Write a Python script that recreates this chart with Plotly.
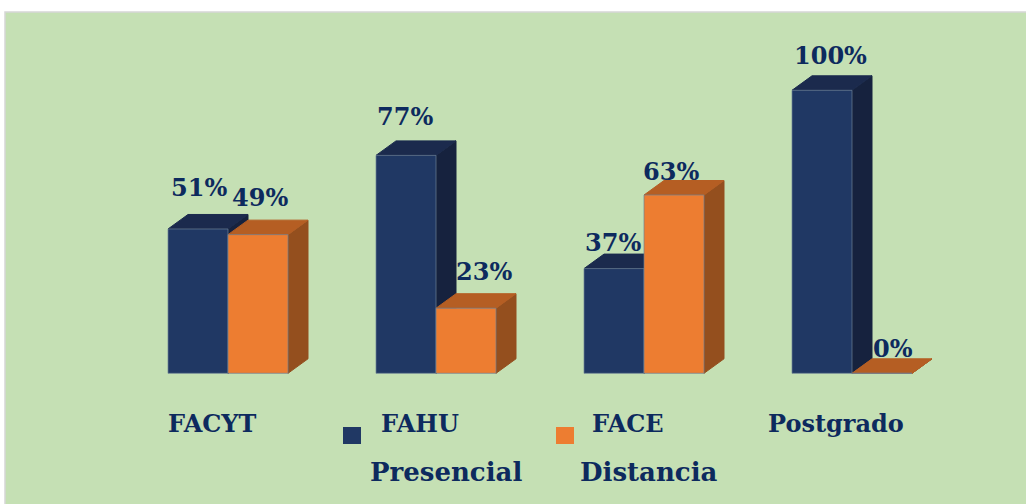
import plotly.graph_objects as go

# datos
categorias = ["FACYT", "FAHU", "FACE", "Postgrado"]
presencial = [51, 77, 37, 100]
distancia = [49, 23, 63, 0]
series = ["Presencial", "Distancia"]

# ajuste fino de las etiquetas (px), como en el original
nudge_pres = [(1, 41), (-1.5, 39), (-1.5, 26), (8, 35)]
nudge_dist = [(2, 37), (18, 37), (-3, 23.5), (11, 25)]

W, H = 1026, 504
PX_X = 208.0   # pixeles por unidad x
PX_Y = 2.83    # pixeles por unidad y
X0_PX, Y0_PX = 228.0, 373.3  # centro del primer grupo / linea base

BAR_W = 60 / PX_X
DX = 20 / PX_X
DY = 14.5 / PX_Y

TXT = "#0D2A5E"
FONT = "DejaVu Serif"

# colores: frente, tapa, lado
COL_PRES = ("#203864", "#1B2A4D", "#16223E")
COL_DIST = ("#ED7D31", "#B55E23", "#944F1E")


def caras(vals, offset):
    """poligonos de frente, tapa y lado para cada barra"""
    fx, fy, tx, ty, sx, sy = [], [], [], [], [], []
    for i, v in enumerate(vals):
        a = i + offset
        b = a + BAR_W
        fx += [a, b, b, a, a, None]
        fy += [0, 0, v, v, 0, None]
        tx += [a, b, b + DX, a + DX, a, None]
        ty += [v, v, v + DY, v + DY, v, None]
        sx += [b, b + DX, b + DX, b, b, None]
        sy += [0, DY, v + DY, v, 0, None]
    return (fx, fy), (tx, ty), (sx, sy)


fig = go.Figure()

for vals, offset, cols, name in [(presencial, -BAR_W, COL_PRES, series[0]),
                                 (distancia, 0, COL_DIST, series[1])]:
    front, top, side = caras(vals, offset)
    for (xs, ys), col, edge in [(side, cols[2], cols[2]), (top, cols[1], cols[1]),
                                (front, cols[0], "rgba(110,130,150,0.7)")]:
        fig.add_trace(go.Scatter(
            x=xs, y=ys, mode="lines", fill="toself", fillcolor=col,
            line=dict(color=edge, width=1), hoverinfo="skip",
            showlegend=False, name=name
        ))

# etiquetas de datos
for vals, offset, nudges in [(presencial, -BAR_W / 2, nudge_pres),
                             (distancia, BAR_W / 2, nudge_dist)]:
    for i, v in enumerate(vals):
        fig.add_annotation(
            x=i + offset, y=v, text=f"{v}%", showarrow=False,
            xanchor="center", yanchor="middle",
            xshift=nudges[i][0], yshift=nudges[i][1],
            font=dict(family=FONT, size=24, color=TXT, weight="bold")
        )

# etiquetas de categoria
for i, c in enumerate(categorias):
    fig.add_annotation(
        x=i - 16 / PX_X, y=1 - 423 / H, yref="paper", text=c, showarrow=False,
        yanchor="middle", font=dict(family=FONT, size=24, color=TXT, weight="bold")
    )

# leyenda manual
for name, col, sq_x, txt_x in [(series[0], COL_PRES[0], 343, 446),
                               (series[1], COL_DIST[0], 556, 649)]:
    fig.add_shape(type="rect", xref="paper", yref="paper",
                  x0=sq_x / W, x1=(sq_x + 18) / W, y0=1 - 444 / H, y1=1 - 427 / H,
                  fillcolor=col, line=dict(width=0))
    fig.add_annotation(
        x=txt_x / W, xref="paper", y=1 - 472 / H, yref="paper", text=name,
        showarrow=False, yanchor="middle",
        font=dict(family=FONT, size=26, color=TXT, weight="bold")
    )

# fondo verde
fig.add_shape(type="rect", xref="paper", yref="paper", layer="below",
              x0=5 / W, x1=1.01, y0=-0.01, y1=1 - 12 / H,
              fillcolor="#C5E0B4", line=dict(color="#D6D6D6", width=1.5))

x_lo = -X0_PX / PX_X
x_hi = (W - X0_PX) / PX_X
y_hi = Y0_PX / PX_Y
y_lo = (Y0_PX - H) / PX_Y

fig.update_layout(
    width=W, height=H,
    margin=dict(l=0, r=0, t=0, b=0),
    paper_bgcolor="white", plot_bgcolor="rgba(0,0,0,0)",
    xaxis=dict(range=[x_lo, x_hi], visible=False, fixedrange=True),
    yaxis=dict(range=[y_lo, y_hi], visible=False, fixedrange=True),
    showlegend=False,
)

fig.write_html(
    "out.html",
    config={"displayModeBar": False},
    post_script="document.body.style.margin='0';document.body.style.overflow='hidden';",
)
